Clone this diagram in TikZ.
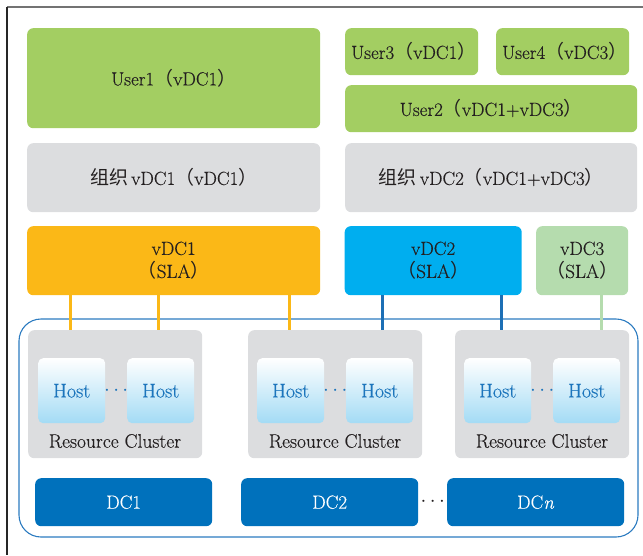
\documentclass[tikz,border=0pt]{standalone}
\usepackage{fontspec}
\setmainfont{Latin Modern Roman}[FakeBold=0.35]
\usetikzlibrary{calc}
\newfontfamily\cjk{Noto Sans CJK SC}
\newcommand{\zkl}{{\cjk （}}
\newcommand{\zkr}{{\cjk ）}}
\definecolor{usergreen}{HTML}{A3CE62}
\definecolor{orggray}{HTML}{DCDDDF}
\definecolor{slaorange}{HTML}{FBB817}
\definecolor{slablue}{HTML}{00AEEF}
\definecolor{slagreen}{HTML}{B5DCAE}
\definecolor{dcblue}{HTML}{0071BC}
\definecolor{linkblue}{HTML}{1C6FB5}
\definecolor{hostblue}{HTML}{A3DBF5}
\definecolor{hosttext}{HTML}{1C75BC}
\definecolor{txt}{HTML}{231F20}
\definecolor{rim}{HTML}{2B7BC0}
\tikzset{
  box/.style={anchor=north west, rounded corners=6pt, inner sep=0pt, align=center,
    text=txt, font=\fontsize{19}{23}\selectfont},
  userbox/.style={box, fill=usergreen},
  orgbox/.style={box, fill=orggray},
  clusterbox/.style={box, fill=orggray},
  hostbox/.style={box, rounded corners=5pt, top color=white, bottom color=hostblue,
    text=hosttext, font=\fontsize{20}{23}\selectfont},
  dcbox/.style={box, fill=dcblue, text=white},
  label/.style={text=txt, font=\fontsize{19.5}{23}\selectfont},
  dots/.style={inner sep=0pt, font=\fontsize{20}{23}\selectfont},
  linkline/.style={line width=3pt},
}
\begin{document}
\begin{tikzpicture}[x=1pt, y=-1pt]
\useasboundingbox (0,0) rectangle (643,555);
% page frame
\draw[line width=1.8pt, black!55] (7,7) -- (643,7);
\draw[line width=1.3pt, black!85] (7,7) -- (7,555);

% user layer
\node[userbox, minimum width=293pt, minimum height=100pt] (u1) at (27,28) {User1\zkl vDC1\zkr};
\node[userbox, minimum width=133pt, minimum height=47pt] (u3) at (345,28) {\hspace{4pt}User3\zkl vDC1\zkr};
\node[userbox, minimum width=133pt, minimum height=47pt] (u4) at (496,28) {\hspace{4pt}User4\zkl vDC3\zkr};
\node[userbox, minimum width=292pt, minimum height=47pt] (u2) at (345,85) {User2\zkl vDC1+vDC3\zkr};

% organisation layer
\node[orgbox, minimum width=293pt, minimum height=69pt] (o1) at (27,143) {{\cjk 组织}\,vDC1\zkl vDC1\zkr};
\node[orgbox, minimum width=292pt, minimum height=69pt] (o2) at (345,143) {{\cjk 组织}\,vDC2\zkl vDC1+vDC3\zkr};

% virtual data centres
\node[box, fill=slaorange, minimum width=293pt, minimum height=69pt] (v1) at (27,226) {vDC1\\\zkl SLA\zkr};
\node[box, fill=slablue, minimum width=177pt, minimum height=69pt] (v2) at (344.5,226) {vDC2\\\zkl SLA\zkr};
\node[box, fill=slagreen, minimum width=92pt, minimum height=69pt] (v3) at (536,226) {vDC3\\\zkl SLA\zkr};

% physical resource pool
\draw[rim, line width=1.1pt, rounded corners=22pt] (19,319) rectangle (638,537);

% resource clusters
\node[clusterbox, minimum width=174pt, minimum height=128pt] (c1) at (28,330) {};
\node[clusterbox, minimum width=174pt, minimum height=128pt] (c2) at (248,330) {};
\node[clusterbox, minimum width=174pt, minimum height=128pt] (c3) at (455,330) {};
\node[label] (l1) at (115,441) {Resource Cluster};
\node[label] (l2) at (335,441) {Resource Cluster};
\node[label] (l3) at (542,441) {Resource Cluster};

% hosts
\node[hostbox, minimum width=67pt, minimum height=65pt] (h1a) at (38,358) {Host};
\node[hostbox, minimum width=67pt, minimum height=65pt] (h1b) at (127,358) {Host};
\node[hostbox, minimum width=67pt, minimum height=65pt] (h2a) at (257,358) {Host};
\node[hostbox, minimum width=67pt, minimum height=65pt] (h2b) at (346,358) {Host};
\node[hostbox, minimum width=67pt, minimum height=65pt] (h3a) at (464,358) {Host};
\node[hostbox, minimum width=67pt, minimum height=65pt] (h3b) at (553,358) {Host};
\node[dots, text=hosttext] (d1) at ($(h1a.east)!0.5!(h1b.west)$) {$\cdots$};
\node[dots, text=hosttext] (d2) at ($(h2a.east)!0.5!(h2b.west)$) {$\cdots$};
\node[dots, text=hosttext] (d3) at ($(h3a.east)!0.5!(h3b.west)$) {$\cdots$};

% data centres
\node[dcbox, minimum width=177pt, minimum height=48pt] (dc1) at (35,478) {DC1};
\node[dcbox, minimum width=177pt, minimum height=48pt] (dc2) at (241,478) {DC2};
\node[dcbox, minimum width=177pt, minimum height=48pt] (dcn) at (447,478) {DC\textit{n}};
\node[dots, text=txt] (dd) at ($(dc2.east)!0.5!(dcn.west)$) {$\cdots$};

% SLA links down to the clusters
\draw[linkline, slaorange] (v1.south -| 70,0) -- (c1.north -| 70,0);
\draw[linkline, slaorange] (v1.south -| 158,0) -- (c1.north -| 158,0);
\draw[linkline, slaorange] (v1.south -| 289,0) -- (c2.north -| 289,0);
\draw[linkline, linkblue] (v2.south -| 382,0) -- (c2.north -| 382,0);
\draw[linkline, linkblue] (v2.south -| 501,0) -- (c3.north -| 501,0);
\draw[linkline, slagreen] (v3.south -| 601,0) -- (c3.north -| 601,0);
\end{tikzpicture}
\end{document}
